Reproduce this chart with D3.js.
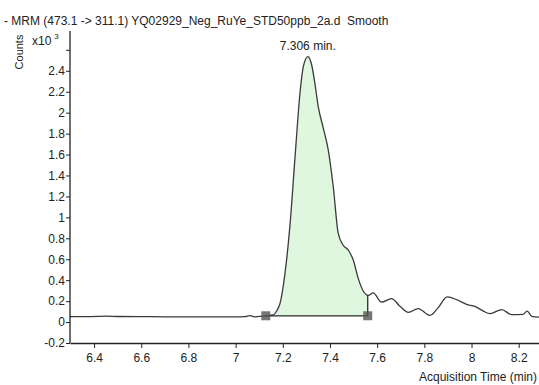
<!DOCTYPE html>
<html><head><meta charset="utf-8">
<script src="https://cdn.jsdelivr.net/npm/d3@7"></script>
<style>body{margin:0;background:#fff}svg{display:block;font-family:"Liberation Sans",Arial,sans-serif}</style>
</head><body><div id="chart"></div>
<script>
const titleText = "- MRM (473.1 -> 311.1) YQ02929_Neg_RuYe_STD50ppb_2a.d  Smooth";
const times = [6.298,6.35,6.42,6.45,6.5,6.6,6.7,6.8,6.9,7.0,7.04,7.06,7.08,7.1,7.128,7.16,7.175,7.188,7.209,7.231,7.252,7.273,7.287,7.306,7.322,7.336,7.350,7.372,7.393,7.414,7.435,7.456,7.478,7.499,7.520,7.541,7.562,7.583,7.619,7.661,7.697,7.732,7.774,7.824,7.859,7.897,7.937,7.979,8.014,8.050,8.078,8.128,8.170,8.219,8.236,8.255,8.286];
const counts = [0.052,0.052,0.054,0.056,0.053,0.052,0.050,0.050,0.050,0.050,0.052,0.062,0.050,0.055,0.060,0.068,0.11,0.176,0.46,0.94,1.58,2.19,2.44,2.536,2.46,2.28,2.06,1.85,1.64,1.29,0.846,0.734,0.686,0.59,0.415,0.297,0.255,0.278,0.19,0.224,0.15,0.093,0.128,0.064,0.138,0.24,0.214,0.169,0.15,0.105,0.08,0.119,0.071,0.074,0.105,0.055,0.048];
const xTicks = [6.4,6.6,6.8,7,7.2,7.4,7.6,7.8,8,8.2];
const yTicks = [-0.2,0,0.2,0.4,0.6,0.8,1,1.2,1.4,1.6,1.8,2,2.2,2.4,2.6];
const yTickLabels = ["-0.2","0","0.2","0.4","0.6","0.8","1","1.2","1.4","1.6","1.8","2","2.2","2.4",""];
const peakTime = 7.306, peakValue = 2.536, peakLabel = "7.306 min.";
const intStart = 7.128, intEnd = 7.56, intBase = 0.06, intEndValue = 0.255;

const W = 539, H = 385;
const svg = d3.select("#chart").append("svg").attr("width", W).attr("height", H);
const x = d3.scaleLinear().domain([6.298, 8.286]).range([70, 539]);
const y = d3.scaleLinear().domain([-0.2, 2.78]).range([343, 31]);
const data = times.map((t, i) => ({t, v: counts[i]}));

svg.append("defs").append("clipPath").attr("id", "intclip")
  .append("rect").attr("x", x(intStart)).attr("y", 0)
  .attr("width", x(intEnd) - x(intStart)).attr("height", H);

const curve = d3.curveMonotoneX;
svg.append("path").datum(data)
  .attr("clip-path", "url(#intclip)")
  .attr("fill", "#dff7df")
  .attr("d", d3.area().x(d => x(d.t)).y0(y(intBase)).y1(d => y(d.v)).curve(curve));

svg.append("path").datum(data)
  .attr("fill", "none").attr("stroke", "#3a3a3a").attr("stroke-width", 1.3)
  .attr("d", d3.line().x(d => x(d.t)).y(d => y(d.v)).curve(curve));

// baseline and end line
svg.append("line").attr("x1", x(intStart)).attr("x2", x(intEnd))
  .attr("y1", y(intBase)).attr("y2", y(intBase)).attr("stroke", "#2a2a2a").attr("stroke-width", 1.3);
svg.append("line").attr("x1", x(intEnd)).attr("x2", x(intEnd))
  .attr("y1", y(intBase)).attr("y2", y(intEndValue)).attr("stroke", "#2a2a2a").attr("stroke-width", 1.3);
[intStart, intEnd].forEach(t => {
  svg.append("rect").attr("x", x(t) - 4.5).attr("y", y(intBase) - 4.5)
    .attr("width", 9).attr("height", 9).attr("fill", "#555").attr("opacity", 0.8);
});

// axes
const xAxis = svg.append("g").attr("transform", "translate(0,343)")
  .call(d3.axisBottom(x).tickValues(xTicks).tickSize(5).tickSizeOuter(0).tickFormat(d3.format("")));
const yAxis = svg.append("g").attr("transform", "translate(70,0)")
  .call(d3.axisLeft(y).tickValues(yTicks).tickSize(4).tickSizeOuter(0)
    .tickFormat((d, i) => yTickLabels[i]));
[xAxis, yAxis].forEach(g => {
  g.select(".domain").attr("stroke", "#222").attr("stroke-width", 1.3);
  g.selectAll(".tick line").attr("stroke", "#222");
  g.selectAll("text").attr("font-size", 12).attr("fill", "#222")
    .attr("font-family", "Liberation Sans, Arial, sans-serif");
});
xAxis.selectAll("text").attr("dy", "0.95em");
yAxis.selectAll("text").attr("x", -5);
yAxis.select(".domain").attr("d", "M0,31V343");

// texts
svg.append("text").attr("x", 4).attr("y", 24.5).attr("font-size", 12).attr("fill", "#222")
  .attr("xml:space", "preserve").style("white-space", "pre").text(titleText);
svg.append("text").attr("transform", "translate(23,52) rotate(-90)")
  .attr("text-anchor", "middle").attr("font-size", 11).attr("fill", "#222").text("Counts");
const xt = svg.append("text").attr("x", 32).attr("y", 45).attr("font-size", 12).attr("fill", "#222");
xt.append("tspan").text("x10");
xt.append("tspan").attr("dx", 3).attr("dy", -6).attr("font-size", 8).text("3");
svg.append("text").attr("x", x(peakTime)).attr("y", 50).attr("text-anchor", "middle")
  .attr("font-size", 12).attr("fill", "#222").text(peakLabel);
svg.append("text").attr("x", 537).attr("y", 381).attr("text-anchor", "end")
  .attr("font-size", 12).attr("fill", "#222").text("Acquisition Time (min)");
</script></body></html>
